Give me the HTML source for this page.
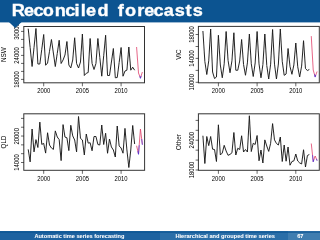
<!DOCTYPE html>
<html><head><meta charset="utf-8"><style>html,body{margin:0;padding:0;width:320px;height:240px;overflow:hidden;background:#fff}</style></head>
<body>
<svg width="320" height="240" viewBox="0 0 320 240" style="position:absolute;left:0;top:0;will-change:transform;font-family:'Liberation Sans', sans-serif">
<rect x="0" y="0" width="320" height="240" fill="#fff"/>
<defs><filter id="bl" x="-5%" y="-5%" width="110%" height="110%"><feGaussianBlur stdDeviation="0.3"/></filter><filter id="bl2" x="-20%" y="-20%" width="140%" height="140%"><feGaussianBlur stdDeviation="0.25"/></filter></defs>
<g fill="#000" filter="url(#bl)">
<rect x="23.8" y="26.5" width="120.7" height="56.3" fill="none" stroke="#333" stroke-width="1.0"/>
<line x1="21.00" y1="31.40" x2="23.80" y2="31.40" stroke="#000" stroke-width="0.6"/>
<line x1="21.00" y1="39.40" x2="23.80" y2="39.40" stroke="#000" stroke-width="0.6"/>
<line x1="21.00" y1="47.40" x2="23.80" y2="47.40" stroke="#000" stroke-width="0.6"/>
<line x1="21.00" y1="55.40" x2="23.80" y2="55.40" stroke="#000" stroke-width="0.6"/>
<line x1="21.00" y1="63.40" x2="23.80" y2="63.40" stroke="#000" stroke-width="0.6"/>
<line x1="21.00" y1="71.40" x2="23.80" y2="71.40" stroke="#000" stroke-width="0.6"/>
<line x1="21.00" y1="79.40" x2="23.80" y2="79.40" stroke="#000" stroke-width="0.6"/>
<text transform="translate(19.20,79.40) rotate(-90) scale(1,1.15)" text-anchor="middle" font-size="6.0" >18000</text>
<text transform="translate(19.20,55.40) rotate(-90) scale(1,1.15)" text-anchor="middle" font-size="6.0" >24000</text>
<text transform="translate(19.20,31.40) rotate(-90) scale(1,1.15)" text-anchor="middle" font-size="6.0" >30000</text>
<line x1="43.70" y1="82.80" x2="43.70" y2="86.30" stroke="#000" stroke-width="0.6"/>
<text transform="translate(43.70,93.30) scale(1,1.2)" text-anchor="middle" font-size="5.9" >2000</text>
<line x1="82.40" y1="82.80" x2="82.40" y2="86.30" stroke="#000" stroke-width="0.6"/>
<text transform="translate(82.40,93.30) scale(1,1.2)" text-anchor="middle" font-size="5.9" >2005</text>
<line x1="121.10" y1="82.80" x2="121.10" y2="86.30" stroke="#000" stroke-width="0.6"/>
<text transform="translate(121.10,93.30) scale(1,1.2)" text-anchor="middle" font-size="5.9" >2010</text>
<text transform="translate(6.20,54.65) rotate(-90) scale(1,1.12)" text-anchor="middle" font-size="6.3" >NSW</text>
<rect x="198.4" y="26.4" width="120.9" height="56.4" fill="none" stroke="#333" stroke-width="1.0"/>
<line x1="195.60" y1="34.50" x2="198.40" y2="34.50" stroke="#000" stroke-width="0.6"/>
<line x1="195.60" y1="46.50" x2="198.40" y2="46.50" stroke="#000" stroke-width="0.6"/>
<line x1="195.60" y1="58.40" x2="198.40" y2="58.40" stroke="#000" stroke-width="0.6"/>
<line x1="195.60" y1="70.40" x2="198.40" y2="70.40" stroke="#000" stroke-width="0.6"/>
<line x1="195.60" y1="82.30" x2="198.40" y2="82.30" stroke="#000" stroke-width="0.6"/>
<text transform="translate(193.80,82.30) rotate(-90) scale(1,1.15)" text-anchor="middle" font-size="6.0" >10000</text>
<text transform="translate(193.80,58.40) rotate(-90) scale(1,1.15)" text-anchor="middle" font-size="6.0" >14000</text>
<text transform="translate(193.80,34.50) rotate(-90) scale(1,1.15)" text-anchor="middle" font-size="6.0" >18000</text>
<line x1="218.40" y1="82.80" x2="218.40" y2="86.30" stroke="#000" stroke-width="0.6"/>
<text transform="translate(218.40,93.30) scale(1,1.2)" text-anchor="middle" font-size="5.9" >2000</text>
<line x1="257.10" y1="82.80" x2="257.10" y2="86.30" stroke="#000" stroke-width="0.6"/>
<text transform="translate(257.10,93.30) scale(1,1.2)" text-anchor="middle" font-size="5.9" >2005</text>
<line x1="295.80" y1="82.80" x2="295.80" y2="86.30" stroke="#000" stroke-width="0.6"/>
<text transform="translate(295.80,93.30) scale(1,1.2)" text-anchor="middle" font-size="5.9" >2010</text>
<text transform="translate(180.80,54.60) rotate(-90) scale(1,1.12)" text-anchor="middle" font-size="6.3" >VIC</text>
<rect x="23.8" y="113.8" width="120.8" height="56.5" fill="none" stroke="#333" stroke-width="1.0"/>
<line x1="21.00" y1="118.40" x2="23.80" y2="118.40" stroke="#000" stroke-width="0.6"/>
<line x1="21.00" y1="127.22" x2="23.80" y2="127.22" stroke="#000" stroke-width="0.6"/>
<line x1="21.00" y1="136.04" x2="23.80" y2="136.04" stroke="#000" stroke-width="0.6"/>
<line x1="21.00" y1="144.86" x2="23.80" y2="144.86" stroke="#000" stroke-width="0.6"/>
<line x1="21.00" y1="153.68" x2="23.80" y2="153.68" stroke="#000" stroke-width="0.6"/>
<line x1="21.00" y1="162.50" x2="23.80" y2="162.50" stroke="#000" stroke-width="0.6"/>
<text transform="translate(19.20,162.50) rotate(-90) scale(1,1.15)" text-anchor="middle" font-size="6.0" >14000</text>
<text transform="translate(19.20,136.30) rotate(-90) scale(1,1.15)" text-anchor="middle" font-size="6.0" >20000</text>
<line x1="43.70" y1="170.30" x2="43.70" y2="173.80" stroke="#000" stroke-width="0.6"/>
<text transform="translate(43.70,180.80) scale(1,1.2)" text-anchor="middle" font-size="5.9" >2000</text>
<line x1="82.40" y1="170.30" x2="82.40" y2="173.80" stroke="#000" stroke-width="0.6"/>
<text transform="translate(82.40,180.80) scale(1,1.2)" text-anchor="middle" font-size="5.9" >2005</text>
<line x1="121.10" y1="170.30" x2="121.10" y2="173.80" stroke="#000" stroke-width="0.6"/>
<text transform="translate(121.10,180.80) scale(1,1.2)" text-anchor="middle" font-size="5.9" >2010</text>
<text transform="translate(6.20,142.05) rotate(-90) scale(1,1.12)" text-anchor="middle" font-size="6.3" >QLD</text>
<rect x="198.4" y="113.8" width="120.9" height="56.5" fill="none" stroke="#333" stroke-width="1.0"/>
<line x1="195.60" y1="120.40" x2="198.40" y2="120.40" stroke="#000" stroke-width="0.6"/>
<line x1="195.60" y1="130.32" x2="198.40" y2="130.32" stroke="#000" stroke-width="0.6"/>
<line x1="195.60" y1="140.24" x2="198.40" y2="140.24" stroke="#000" stroke-width="0.6"/>
<line x1="195.60" y1="150.16" x2="198.40" y2="150.16" stroke="#000" stroke-width="0.6"/>
<line x1="195.60" y1="160.08" x2="198.40" y2="160.08" stroke="#000" stroke-width="0.6"/>
<line x1="195.60" y1="170.00" x2="198.40" y2="170.00" stroke="#000" stroke-width="0.6"/>
<text transform="translate(193.80,170.00) rotate(-90) scale(1,1.15)" text-anchor="middle" font-size="6.0" >18000</text>
<text transform="translate(193.80,140.20) rotate(-90) scale(1,1.15)" text-anchor="middle" font-size="6.0" >24000</text>
<line x1="218.40" y1="170.30" x2="218.40" y2="173.80" stroke="#000" stroke-width="0.6"/>
<text transform="translate(218.40,180.80) scale(1,1.2)" text-anchor="middle" font-size="5.9" >2000</text>
<line x1="257.10" y1="170.30" x2="257.10" y2="173.80" stroke="#000" stroke-width="0.6"/>
<text transform="translate(257.10,180.80) scale(1,1.2)" text-anchor="middle" font-size="5.9" >2005</text>
<line x1="295.80" y1="170.30" x2="295.80" y2="173.80" stroke="#000" stroke-width="0.6"/>
<text transform="translate(295.80,180.80) scale(1,1.2)" text-anchor="middle" font-size="5.9" >2010</text>
<text transform="translate(180.80,142.05) rotate(-90) scale(1,1.12)" text-anchor="middle" font-size="6.3" >Other</text>
<polyline points="28.22,28.70 30.15,47.60 32.09,66.50 34.02,47.50 35.96,28.50 37.89,64.00 39.83,64.00 41.77,49.25 43.70,34.50 45.63,65.25 47.57,63.00 49.50,51.25 51.44,39.50 53.38,53.00 55.31,66.50 57.25,53.38 59.18,40.25 61.12,63.50 63.05,60.00 64.98,55.00 66.92,41.50 68.85,65.00 70.79,68.00 72.72,60.00 74.66,37.75 76.59,63.50 78.53,68.00 80.47,62.00 82.40,34.00 84.34,75.50 86.27,73.25 88.20,72.50 90.14,38.50 92.08,63.50 94.01,69.50 95.95,63.50 97.88,38.50 99.81,57.35 101.75,76.20 103.69,55.73 105.62,35.25 107.56,75.50 109.49,75.50 111.42,62.00 113.36,48.50 115.30,77.75 117.23,77.50 119.17,62.50 121.10,47.50 123.03,76.20 124.97,71.00 126.91,70.20 128.84,47.00 130.78,70.20 132.71,67.20 134.64,70.20" fill="none" stroke="#1a1a1a" stroke-width="0.95" stroke-linejoin="round"/><polyline points="136.58,47.00 138.51,73.00 140.45,78.00 142.38,72.00" fill="none" stroke="#e0406a" stroke-width="0.8"/><polyline points="139.77,76.25 140.45,78.40 141.13,75.90" fill="none" stroke="#4030e0" stroke-width="0.85" opacity="0.8" stroke-linejoin="round"/>
<polyline points="202.92,31.00 204.85,61.45 206.79,74.50 208.72,60.85 210.66,29.00 212.59,72.00 214.53,78.50 216.46,77.00 218.40,35.25 220.33,65.00 222.27,77.75 224.20,63.88 226.14,31.50 228.07,60.38 230.01,72.75 231.94,60.75 233.88,32.75 235.81,70.25 237.75,70.25 239.69,61.02 241.62,39.50 243.55,64.53 245.49,75.25 247.42,62.88 249.36,34.00 251.29,63.75 253.23,76.50 255.16,63.00 257.10,31.50 259.03,63.88 260.97,77.75 262.90,64.62 264.84,34.00 266.77,65.50 268.71,79.00 270.64,64.15 272.58,29.50 274.51,64.15 276.45,79.00 278.38,64.00 280.32,29.00 282.25,61.41 284.19,75.30 286.12,74.00 288.06,48.50 290.00,66.56 291.93,74.30 293.87,64.91 295.80,43.00 297.74,66.80 299.67,77.00 301.61,66.11 303.54,40.70 305.48,68.60 307.41,70.50 309.34,69.50" fill="none" stroke="#1a1a1a" stroke-width="0.95" stroke-linejoin="round"/><polyline points="311.28,36.10 313.21,70.00 315.15,76.70 317.08,71.50" fill="none" stroke="#e0406a" stroke-width="0.8"/><polyline points="314.47,74.36 315.15,77.10 315.83,74.88" fill="none" stroke="#4030e0" stroke-width="0.85" opacity="0.8" stroke-linejoin="round"/>
<polyline points="28.22,149.40 30.15,161.90 32.09,129.00 34.02,151.90 35.96,139.60 37.89,147.50 39.83,122.10 41.77,144.40 43.70,143.40 45.63,153.10 47.57,132.75 49.50,145.00 51.44,148.00 53.38,149.40 55.31,130.90 57.25,137.00 59.18,139.60 61.12,160.60 63.05,124.60 64.98,137.10 66.92,137.75 68.85,150.60 70.79,125.25 72.72,135.90 74.66,140.00 76.59,151.90 78.53,116.50 80.47,138.40 82.40,140.00 84.34,155.00 86.27,134.00 88.20,143.10 90.14,142.75 92.08,150.75 94.01,136.50 95.95,136.50 97.88,144.50 99.81,145.00 101.75,125.00 103.69,144.50 105.62,133.25 107.56,153.25 109.49,139.00 111.42,147.00 113.36,150.00 115.30,157.00 117.23,126.00 119.17,146.00 121.10,148.00 123.03,153.20 124.97,128.40 126.91,150.00 128.84,167.50 130.78,150.00 132.71,125.50 134.64,144.00" fill="none" stroke="#1a1a1a" stroke-width="0.95" stroke-linejoin="round"/><polyline points="136.58,145.75 138.51,154.00 140.45,129.00 142.38,144.50" fill="none" stroke="#e0406a" stroke-width="0.8"/><polyline points="137.84,151.11 138.51,154.40 139.19,145.25" fill="none" stroke="#4030e0" stroke-width="0.85" opacity="0.8" stroke-linejoin="round"/><polyline points="141.71,139.07 142.38,144.90" fill="none" stroke="#4030e0" stroke-width="0.85" opacity="0.8" stroke-linejoin="round"/>
<polyline points="202.92,135.75 204.85,163.50 206.79,136.50 208.72,145.60 210.66,136.50 212.59,149.20 214.53,149.50 216.46,161.50 218.40,124.80 220.33,155.00 222.27,153.00 224.20,145.30 226.14,151.00 228.07,155.30 230.01,154.40 231.94,152.80 233.88,132.50 235.81,155.00 237.75,148.25 239.69,149.50 241.62,135.75 243.55,152.00 245.49,149.50 247.42,152.00 249.36,115.75 251.29,151.50 253.23,143.25 255.16,144.50 257.10,135.50 259.03,160.75 260.97,150.00 262.90,163.00 264.84,139.90 266.77,146.00 268.71,151.40 270.64,143.25 272.58,123.60 274.51,139.90 276.45,143.50 278.38,145.00 280.32,137.00 282.25,161.50 284.19,145.00 286.12,161.20 288.06,147.00 290.00,165.20 291.93,161.50 293.87,160.90 295.80,154.00 297.74,161.00 299.67,162.90 301.61,164.00 303.54,149.75 305.48,167.00 307.41,155.50 309.34,154.50" fill="none" stroke="#1a1a1a" stroke-width="0.95" stroke-linejoin="round"/><polyline points="311.28,143.50 313.21,161.50 315.15,156.00 317.08,160.40" fill="none" stroke="#e0406a" stroke-width="0.8"/><polyline points="312.54,155.20 313.21,161.90 313.89,159.57" fill="none" stroke="#4030e0" stroke-width="0.85" opacity="0.8" stroke-linejoin="round"/><polyline points="316.41,158.86 317.08,160.80" fill="none" stroke="#4030e0" stroke-width="0.85" opacity="0.8" stroke-linejoin="round"/>
</g>
<rect x="0" y="0" width="320" height="22.4" fill="#0C5491"/>
<path d="M8.9 22 L21.6 22 L15.25 28.1 Z" fill="#0C5491"/>
<g font-size="16.2" font-weight="bold" fill="#fff" stroke="#fff" stroke-width="0.35" text-anchor="middle"><text transform="translate(18.40,16) scale(1.12,1)">R</text><text transform="translate(28.95,16) scale(1.12,1)">e</text><text transform="translate(38.65,16) scale(1.12,1)">c</text><text transform="translate(48.30,16) scale(1.12,1)">o</text><text transform="translate(60.20,16) scale(1.12,1)">n</text><text transform="translate(70.20,16) scale(1.12,1)">c</text><text transform="translate(77.05,16) scale(1.12,1)">i</text><text transform="translate(83.30,16) scale(1.12,1)">l</text><text transform="translate(91.10,16) scale(1.12,1)">e</text><text transform="translate(103.00,16) scale(1.12,1)">d</text><text transform="translate(120.80,16) scale(1.12,1)">f</text><text transform="translate(130.50,16) scale(1.12,1)">o</text><text transform="translate(140.80,16) scale(1.12,1)">r</text><text transform="translate(149.25,16) scale(1.12,1)">e</text><text transform="translate(158.65,16) scale(1.12,1)">c</text><text transform="translate(168.90,16) scale(1.12,1)">a</text><text transform="translate(179.85,16) scale(1.12,1)">s</text><text transform="translate(188.60,16) scale(1.12,1)">t</text><text transform="translate(197.70,16) scale(1.12,1)">s</text></g>
<rect x="0" y="231" width="160" height="9" fill="#1D62A0"/>
<rect x="160" y="231" width="128" height="9" fill="#2A6EA8"/>
<rect x="288" y="231" width="32" height="9" fill="#3F7DB0"/>
<rect x="0" y="231.3" width="320" height="1.6" fill="#0C5491" opacity="0.7"/>
<g font-weight="bold" fill="#fff" stroke="#fff" stroke-width="0.05" font-size="5.7">
<text x="79.4" y="237.8" text-anchor="middle" textLength="90" lengthAdjust="spacingAndGlyphs">Automatic time series forecasting</text>
<text x="225.2" y="237.8" text-anchor="middle" textLength="99.5" lengthAdjust="spacingAndGlyphs">Hierarchical and grouped time series</text>
<text x="300.3" y="237.8" text-anchor="middle">67</text>
</g>
</svg>
</body></html>
